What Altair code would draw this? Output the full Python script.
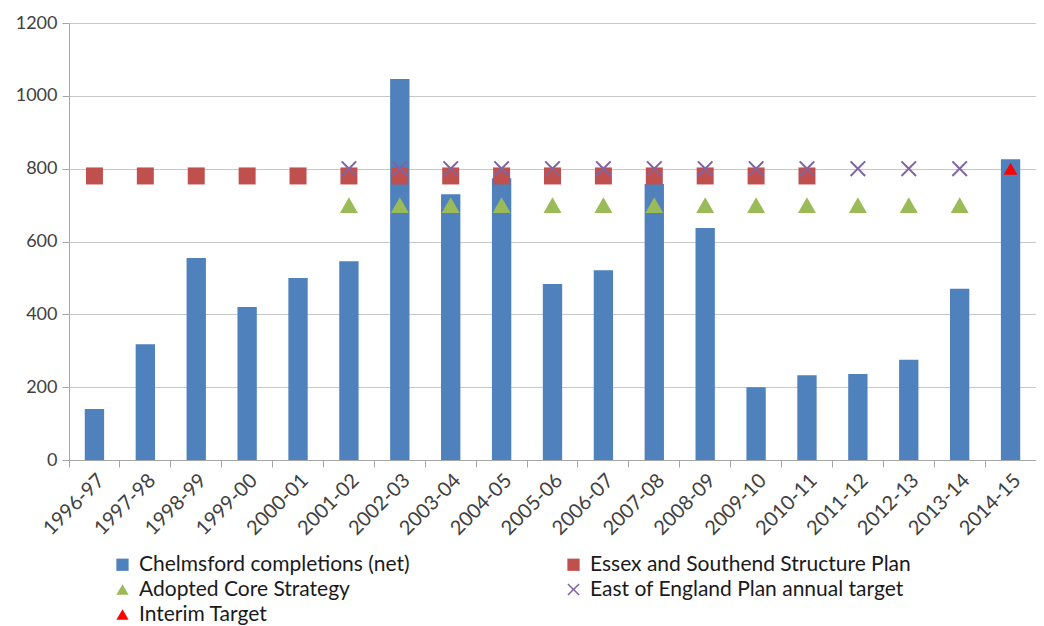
import altair as alt
import pandas as pd

years = ["1996-97", "1997-98", "1998-99", "1999-00", "2000-01", "2001-02", "2002-03",
         "2003-04", "2004-05", "2005-06", "2006-07", "2007-08", "2008-09", "2009-10",
         "2010-11", "2011-12", "2012-13", "2013-14", "2014-15"]
completions = [140, 318, 555, 420, 500, 546, 1046, 730, 774, 483, 521, 758, 637,
               200, 233, 236, 275, 470, 826]

structure_years = ["1996-97", "1997-98", "1998-99", "1999-00", "2000-01", "2001-02", "2002-03",
                   "2003-04", "2004-05", "2005-06", "2006-07", "2007-08", "2008-09", "2009-10",
                   "2010-11"]
structure_plan = [780, 780, 780, 780, 780, 780, 780, 780, 780, 780, 780, 780, 780, 780, 780]

core_years = ["2001-02", "2002-03", "2003-04", "2004-05", "2005-06", "2006-07", "2007-08",
              "2008-09", "2009-10", "2010-11", "2011-12", "2012-13", "2013-14"]
core_strategy = [700, 700, 700, 700, 700, 700, 700, 700, 700, 700, 700, 700, 700]

eoe_years = ["2001-02", "2002-03", "2003-04", "2004-05", "2005-06", "2006-07", "2007-08",
             "2008-09", "2009-10", "2010-11", "2011-12", "2012-13", "2013-14"]
eoe_target = [800, 800, 800, 800, 800, 800, 800, 800, 800, 800, 800, 800, 800]

interim_years = ["2014-15"]
interim_target = [800]

S_BAR = "Chelmsford completions (net)"
S_STRUCT = "Essex and Southend Structure Plan"
S_CORE = "Adopted Core Strategy"
S_EOE = "East of England Plan annual target"
S_INT = "Interim Target"

# thin filled "x" glyph (unit coordinates)
X_PATH = ("M-0.82,-1L0,-0.18L0.82,-1L1,-0.82L0.18,0L1,0.82L0.82,1L0,0.18"
          "L-0.82,1L-1,0.82L-0.18,0L-1,-0.82Z")

# legend lays entries out column by column: column 1 then column 2
legend_order = [S_BAR, S_CORE, S_INT, S_STRUCT, S_EOE]
colors = ["#4F81BD", "#9BBB59", "#FF0000", "#C0504D", "#8064A2"]
shapes = ["square", "triangle-up", "triangle-up", "square", X_PATH]

FONT = "Lato"

x_enc = alt.X("year:N", sort=years, scale=alt.Scale(domain=years, paddingInner=0, paddingOuter=0),
              axis=alt.Axis(title=None, labelAngle=-45, labelFontSize=20, labelColor="#404040",
                            bandPosition=0, domainColor="#a6a6a6", tickColor="#a6a6a6",
                            tickSize=7, grid=False, labelPadding=3))
y_enc = alt.Y("value:Q", scale=alt.Scale(domain=[0, 1200], nice=False),
              axis=alt.Axis(title=None, values=[0, 200, 400, 600, 800, 1000, 1200], format="d",
                            labelFontSize=18, labelColor="#404040", domainColor="#a6a6a6",
                            tickColor="#a6a6a6", tickSize=7, gridColor="#c8c8c8",
                            labelPadding=5))

legend = alt.Legend(title=None, orient="none", legendX=43, legendY=531, columns=2,
                    columnPadding=153, rowPadding=3, labelFontSize=21, labelColor="#1a1a1a",
                    symbolSize=150, labelOffset=6, labelFont=FONT, labelLimit=0,
                    symbolOpacity=1)

color_enc = alt.Color("series:N", scale=alt.Scale(domain=legend_order, range=colors), legend=legend)
shape_enc = alt.Shape("series:N", scale=alt.Scale(domain=legend_order, range=shapes), legend=legend)


def frame(series_name, yrs, vals):
    return pd.DataFrame({"year": yrs, "value": vals, "series": series_name})


bars = alt.Chart(frame(S_BAR, years, completions)).mark_bar(width={"band": 0.38}).encode(
    x=x_enc, y=y_enc, color=color_enc)

squares = alt.Chart(frame(S_STRUCT, structure_years, structure_plan)).mark_point(
    filled=True, opacity=1, size=289).encode(x=x_enc, y=y_enc, color=color_enc, shape=shape_enc)

triangles = alt.Chart(frame(S_CORE, core_years, core_strategy)).mark_point(
    filled=True, opacity=1, size=324).encode(x=x_enc, y=y_enc, color=color_enc, shape=shape_enc)

crosses = alt.Chart(frame(S_EOE, eoe_years, eoe_target)).mark_point(
    filled=True, opacity=1, size=256).encode(x=x_enc, y=y_enc, color=color_enc, shape=shape_enc)

interim = alt.Chart(frame(S_INT, interim_years, interim_target)).mark_point(
    filled=True, opacity=1, size=190).encode(x=x_enc, y=y_enc, color=color_enc, shape=shape_enc)

chart = alt.layer(bars, squares, triangles, crosses, interim).properties(
    width=967, height=437,
    padding={"left": 7, "top": 6, "right": 0, "bottom": 0}
).configure_view(stroke=None).configure(font=FONT)

chart.save("out.html", embed_options={"renderer": "svg", "actions": False})
